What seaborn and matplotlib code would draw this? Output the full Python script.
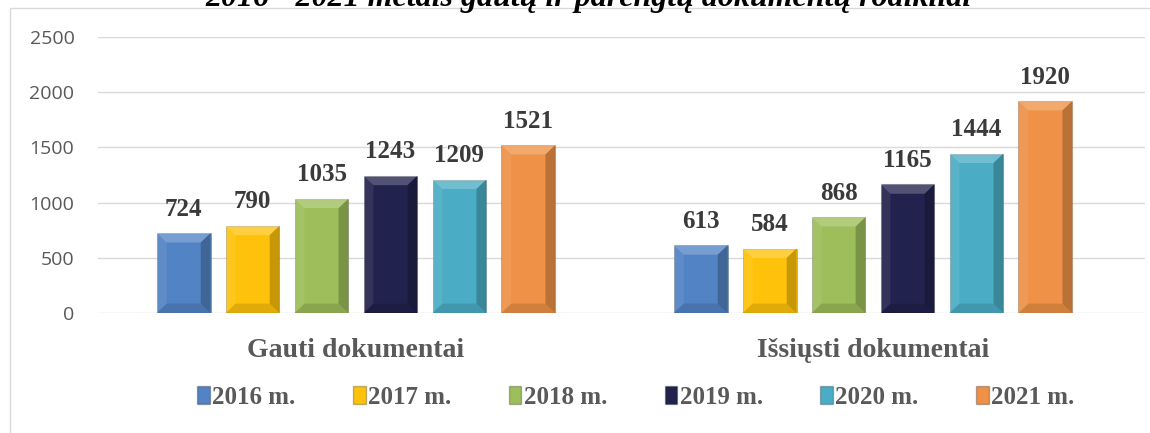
import matplotlib
matplotlib.use("Agg")
import matplotlib.pyplot as plt
import seaborn as sns
import pandas as pd
from matplotlib.patches import Rectangle, Polygon

categories = ["Gauti dokumentai", "Išsiųsti dokumentai"]
years = ["2016 m.", "2017 m.", "2018 m.", "2019 m.", "2020 m.", "2021 m."]
gauti = [724, 790, 1035, 1243, 1209, 1521]
issiusti = [613, 584, 868, 1165, 1444, 1920]
colors = ["#5283C4", "#FFC20A", "#9DBE5B", "#22224E", "#4AADC5", "#EF9146"]

df = pd.DataFrame({
    "category": [categories[0]] * 6 + [categories[1]] * 6,
    "year": years * 2,
    "value": gauti + issiusti,
})

sns.set_theme(style="white")
serif = ["Liberation Serif", "DejaVu Serif"]
sans = ["Open Sans", "DejaVu Sans"]

fig = plt.figure(figsize=(11.5, 4.33), dpi=100)
ax = fig.add_axes([98 / 1150, 1 - 313 / 433, 1047 / 1150, 276 / 433])

sns.barplot(data=df, x="category", y="value", hue="year", palette=colors,
            ax=ax, width=0.8, gap=0.22, legend=False, saturation=1)

ax.set_ylim(0, 2500)
ax.set_xlim(-0.499, 1.526)

# simple bevel look on each bar
bx, by = 0.019, 85
for bar in ax.patches:
    bar.set_edgecolor("#00000030")
    bar.set_linewidth(0.8)
    x0, y0 = bar.get_x(), bar.get_y()
    x1, y1 = x0 + bar.get_width(), y0 + bar.get_height()
    ax.add_patch(Polygon([(x0, y1), (x1, y1), (x1 - bx, y1 - by), (x0 + bx, y1 - by)],
                         facecolor="white", alpha=0.22, lw=0, zorder=3))
    ax.add_patch(Polygon([(x1, y1), (x1, y0), (x1 - bx, y0 + by), (x1 - bx, y1 - by)],
                         facecolor="black", alpha=0.22, lw=0, zorder=3))
    ax.add_patch(Polygon([(x0, y0), (x1, y0), (x1 - bx, y0 + by), (x0 + bx, y0 + by)],
                         facecolor="black", alpha=0.12, lw=0, zorder=3))
    ax.add_patch(Polygon([(x0, y1), (x0, y0), (x0 + bx, y0 + by), (x0 + bx, y1 - by)],
                         facecolor="white", alpha=0.08, lw=0, zorder=3))

for cont in ax.containers:
    ax.bar_label(cont, padding=9, fontsize=18, fontweight="bold",
                 family=serif, color="#3A3A3A")

ax.set_yticks(range(0, 2501, 500))
ax.yaxis.grid(True, color="#D9D9D9", linewidth=1)
ax.set_axisbelow(True)
for s in ax.spines.values():
    s.set_visible(False)
ax.tick_params(axis="y", length=0, pad=17, labelsize=14, labelcolor="#595959")
for t in ax.get_yticklabels():
    t.set_family(sans)
ax.tick_params(axis="x", length=0, pad=18)
ax.set_xticks([0, 1])
ax.set_xticklabels(categories, fontsize=20, fontweight="bold",
                   family=serif, color="#595959")
ax.set_xlabel("")
ax.set_ylabel("")

handles = [Rectangle((0, 0), 1, 1, facecolor=c, edgecolor="#00000040") for c in colors]
fig.legend(handles, years, loc="center", bbox_to_anchor=(0.553, 1 - 397 / 433),
           ncol=6, frameon=False, handlelength=0.5, handleheight=0.7,
           handletextpad=0.1, columnspacing=2.3,
           prop={"family": serif, "weight": "bold", "size": 18}, labelcolor="#595959")

# chart border (left and top edges)
fig.add_artist(plt.Line2D([10 / 1150, 10 / 1150], [0, 1 - 8 / 433],
                          transform=fig.transFigure, color="#D9D9D9", lw=1))
fig.add_artist(plt.Line2D([10 / 1150, 1], [1 - 8 / 433, 1 - 8 / 433],
                          transform=fig.transFigure, color="#D9D9D9", lw=1))

fig.text(0.512, 1 - 6 / 433, "2016 - 2021 metais gautų ir parengtų dokumentų rodikliai",
         ha="center", va="baseline", fontsize=23, fontweight="bold",
         fontstyle="italic", family=serif, color="black")

fig.savefig("out.png", dpi=100)
